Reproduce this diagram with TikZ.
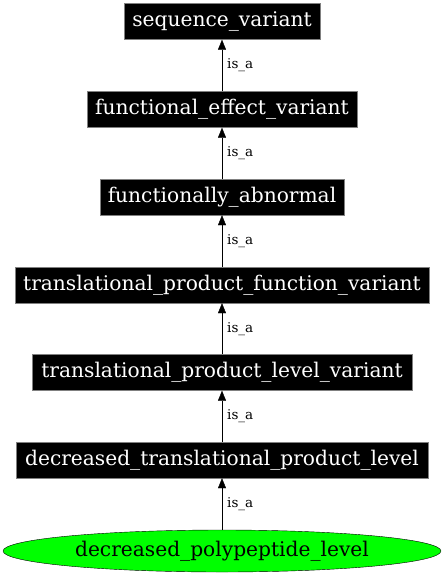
\documentclass[tikz,border=0pt]{standalone}
\usepackage{fontspec}
\setmainfont{DejaVu Serif}
\usetikzlibrary{shapes.geometric,arrows.meta}
\definecolor{termgreen}{RGB}{0,255,0}
\tikzset{
  term/.style={draw=gray, fill=black, text=white, inner sep=0pt, minimum height=36pt,
    font=\fontsize{20.2}{24}\selectfont},
  leaf/.style={ellipse, draw=black, fill=termgreen, inner sep=0pt, minimum width=438pt,
    minimum height=42pt, font=\fontsize{20.2}{24}\selectfont},
  isa/.style={draw=black, -{Triangle[width=8pt,length=10pt]}},
  rel/.style={font=\fontsize{13.5}{16}\selectfont, anchor=west, inner sep=0pt}
}
\begin{document}
\begin{tikzpicture}[x=1pt,y=-1pt]
  \useasboundingbox (0,0) rectangle (444,576);
  \node[term, minimum width=196pt] (seqvar) at (222,21.5) {sequence\_variant};
  \node[term, minimum width=270pt] (funceff) at (222,109.5) {functional\_effect\_variant};
  \node[term, minimum width=244pt] (funcabn) at (222,197) {functionally\_abnormal};
  \node[term, minimum width=414pt] (tpfv) at (222,285) {translational\_product\_function\_variant};
  \node[term, minimum width=380pt] (tplv) at (222,372.5) {translational\_product\_level\_variant};
  \node[term, minimum width=412pt] (dtpl) at (222,460) {decreased\_translational\_product\_level};
  \node[leaf] (dpl) at (222,551) {decreased\_polypeptide\_level};

  \draw[isa] (funceff) -- node[rel, xshift=5pt] {is\_a} (seqvar);
  \draw[isa] (funcabn) -- node[rel, xshift=5pt] {is\_a} (funceff);
  \draw[isa] (tpfv) -- node[rel, xshift=5pt] {is\_a} (funcabn);
  \draw[isa] (tplv) -- node[rel, xshift=5pt] {is\_a} (tpfv);
  \draw[isa] (dtpl) -- node[rel, xshift=5pt] {is\_a} (tplv);
  \draw[isa] (dpl) -- node[rel, xshift=5pt] {is\_a} (dtpl);
\end{tikzpicture}
\end{document}
